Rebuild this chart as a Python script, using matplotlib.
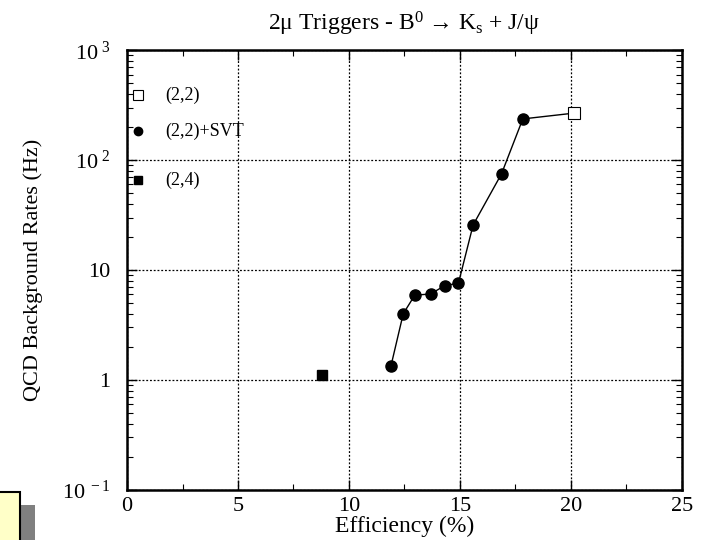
import numpy as np
import matplotlib
matplotlib.use("Agg")
import matplotlib.pyplot as plt
from matplotlib.ticker import FixedLocator, FixedFormatter, LogLocator, NullFormatter, MultipleLocator
from matplotlib.patches import Rectangle

plt.rcParams['font.family'] = ['Liberation Serif', 'DejaVu Serif']
plt.rcParams['mathtext.fontset'] = 'custom'
plt.rcParams['mathtext.rm'] = 'Liberation Serif'
plt.rcParams['mathtext.it'] = 'Liberation Serif:italic'

# data
svt_eff = [11.9, 12.45, 12.97, 13.68, 14.32, 14.94, 15.6, 16.88, 17.84]
svt_rate = [1.35, 4.0, 5.9, 6.05, 7.2, 7.6, 25.7, 75, 237]
open_eff = [20.17]
open_rate = [268]
b24_eff = [8.77]
b24_rate = [1.1]

ytick_vals = [0.1, 1, 10, 100, 1000]
ytick_labels = ['10$^{\\ -1}$', '1', '10', '10$^{\\ 2}$', '10$^{\\ 3}$']

fig = plt.figure(figsize=(7.02, 5.4), dpi=100)
ax = fig.add_axes([0.181, 0.093, 0.79, 0.814])

# slide artefact: yellow note box with grey shadow, bottom left
fig.patches.append(Rectangle((0.029, 0.0), 0.021, 0.065, transform=fig.transFigure,
                             facecolor='#808080', edgecolor='none', zorder=0))
fig.patches.append(Rectangle((-0.01, -0.01), 0.039, 0.098, transform=fig.transFigure,
                             facecolor='#ffffc8', edgecolor='black', lw=1.5, zorder=1))

# line through (2,2)+SVT points ending at the (2,2) point
ax.plot(svt_eff + open_eff, svt_rate + open_rate, color='black', lw=1, zorder=3)
ax.plot(svt_eff, svt_rate, 'o', color='black', ms=8, zorder=4)
ax.plot(open_eff, open_rate, 's', mfc='white', mec='black', mew=0.8, ms=8, zorder=4)
ax.plot(b24_eff, b24_rate, 's', color='black', ms=7, zorder=4)

ax.set_yscale('log')
ax.set_xlim(0, 25)
ax.set_ylim(0.1, 1000)

ax.yaxis.set_major_locator(FixedLocator(ytick_vals))
ax.yaxis.set_major_formatter(FixedFormatter(ytick_labels))
ax.yaxis.set_minor_locator(LogLocator(base=10, subs=np.arange(2, 10)))
ax.yaxis.set_minor_formatter(NullFormatter())
ax.xaxis.set_major_locator(MultipleLocator(5))
ax.xaxis.set_minor_locator(MultipleLocator(2.5))

ax.tick_params(which='both', direction='in', top=True, right=True, labelsize=16)
ax.tick_params(which='major', length=7, width=1)
ax.tick_params(which='minor', length=4, width=0.8)
ax.tick_params(axis='x', pad=5)
ax.tick_params(axis='y', pad=12)
for s in ax.spines.values():
    s.set_linewidth(1.8)

ax.grid(True, which='major', color='black', linestyle=(0, (1.5, 1.5)), lw=0.9)

ax.set_xlabel('Efficiency (%)', fontsize=17, labelpad=0)
ax.set_ylabel('QCD Background Rates (Hz)', fontsize=16, labelpad=14)
ax.set_title('2\u03bc Triggers - B$^{0}$ \u2192 K$_{\\mathrm{s}}$ + J/\u03c8', fontsize=17, pad=14)

# hand-made legend
leg_y = [0.898, 0.816, 0.705]
leg_txt = ['(2,2)', '(2,2)+SVT', '(2,4)']
ax.plot(0.02, leg_y[0], 's', mfc='white', mec='black', mew=0.8, ms=7, transform=ax.transAxes, clip_on=False)
ax.plot(0.02, leg_y[1], 'o', color='black', ms=6, transform=ax.transAxes, clip_on=False)
ax.plot(0.02, leg_y[2], 's', color='black', ms=6, transform=ax.transAxes, clip_on=False)
for yy, t in zip(leg_y, leg_txt):
    ax.text(0.068, yy, t, transform=ax.transAxes, fontsize=13, va='center', ha='left')

fig.savefig('out.png', dpi=100)
